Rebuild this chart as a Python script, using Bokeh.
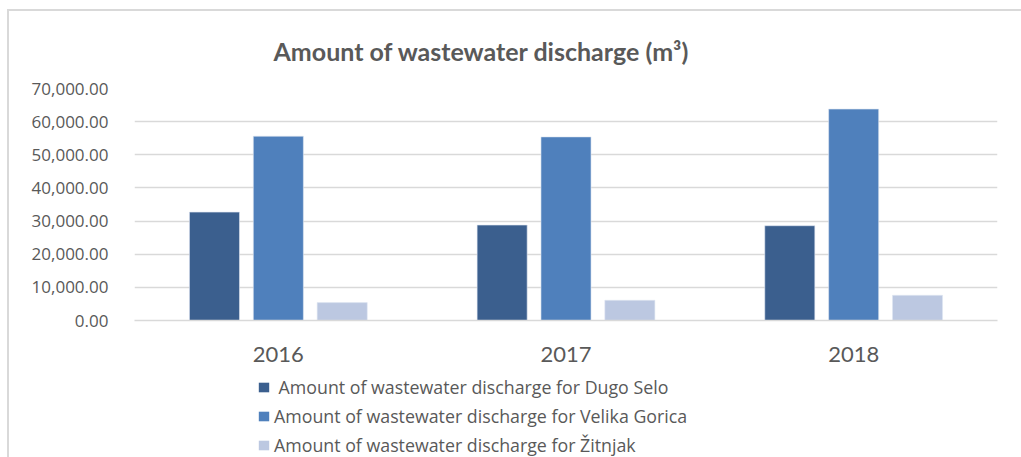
from bokeh.plotting import figure
from bokeh.layouts import column
from bokeh.models import (ColumnDataSource, FactorRange, NumeralTickFormatter, FixedTicker,
                          Legend, LegendItem)
from bokeh.transform import dodge
from bokeh.embed import file_html
from bokeh.resources import INLINE

years = ["2016", "2017", "2018"]
dugo_selo = [32700, 28800, 28600]
velika_gorica = [55600, 55400, 63800]
zitnjak = [5400, 6100, 7600]
y_ticks = [0, 10000, 20000, 30000, 40000, 50000, 60000, 70000]
series_names = [" Amount of wastewater discharge for Dugo Selo",
                "Amount of wastewater discharge for Velika Gorica",
                "Amount of wastewater discharge for Žitnjak"]
colors = ["#3b5f8e", "#4f80bc", "#bcc8e1"]
title_text = "Amount of wastewater discharge (m³)"

src = ColumnDataSource(dict(years=years, dugo=dugo_selo, velika=velika_gorica, zit=zitnjak))

p = figure(width=1012, height=364, x_range=FactorRange(*years, range_padding=0),
           y_range=(0, 70000), output_backend="svg", toolbar_location=None,
           min_border_left=125, min_border_right=24, min_border_top=77, min_border_bottom=55)
p.x_range.range_padding = 0
p.outline_line_color = None
p.background_fill_color = "white"
p.border_fill_color = "white"

keys = ["dugo", "velika", "zit"]
offsets = [-0.222, 0.0, 0.222]
for k, off, c in zip(keys, offsets, colors):
    p.vbar(x=dodge("years", off, range=p.x_range), top=k, width=0.174, source=src,
           fill_color=c, line_color="#dfe6f2", line_width=1, line_alpha=0.6)

# title
p.title.text = title_text
p.title.align = "left"
p.title.offset = 139
p.title.standoff = 45
p.title.text_font = "Lato"
p.title.text_font_style = "bold"
p.title.text_font_size = "25px"
p.title.text_color = "#595959"

# axes
p.yaxis.ticker = FixedTicker(ticks=y_ticks)
p.yaxis.formatter = NumeralTickFormatter(format="0,0.00")
p.yaxis.axis_line_color = None
p.yaxis.major_tick_line_color = None
p.yaxis.minor_tick_line_color = None
p.yaxis.major_label_standoff = 20
p.yaxis.major_label_text_font = "Open Sans"
p.yaxis.major_label_text_font_size = "17px"
p.yaxis.major_label_text_color = "#595959"

p.xaxis.axis_line_color = "#d9d9d9"
p.xaxis.axis_line_width = 1.5
p.xaxis.major_tick_line_color = None
p.xaxis.minor_tick_line_color = None
p.xaxis.major_label_standoff = 20
p.xaxis.major_label_text_font = "Lato"
p.xaxis.major_label_text_font_size = "22px"
p.xaxis.major_label_text_color = "#595959"

p.xgrid.grid_line_color = None
p.ygrid.grid_line_color = "#d9d9d9"
p.ygrid.grid_line_width = 1.5

# legend strip below the chart
p2 = figure(width=1012, height=82, output_backend="svg", toolbar_location=None,
            x_axis_type=None, y_axis_type=None, min_border=0,
            x_range=(0, 1), y_range=(0, 1))
p2.outline_line_color = None
p2.xgrid.grid_line_color = None
p2.ygrid.grid_line_color = None
swatch_src = ColumnDataSource(dict(x=[-10], top=[0]))
swatches = [p2.vbar(x="x", top="top", width=0.1, source=swatch_src, fill_color=c, line_color=None)
            for c in colors]
legend = Legend(items=[LegendItem(label=n, renderers=[r]) for n, r in zip(series_names, swatches)],
                location=(123, 0), orientation="vertical",
                label_text_font="Open Sans", label_text_font_size="17.8px",
                label_text_color="#595959", glyph_width=13, glyph_height=12,
                spacing=5, label_standoff=4, padding=0, margin=0,
                border_line_color=None, background_fill_alpha=0)
p2.add_layout(legend, "center")

layout = column(p, p2, spacing=0)
layout.styles = {"margin-left": "7px", "margin-top": "9px",
                 "border-top": "2px solid #d9d9d9", "border-left": "2px solid #d9d9d9"}

open("out.html", "w").write(file_html(layout, INLINE))
